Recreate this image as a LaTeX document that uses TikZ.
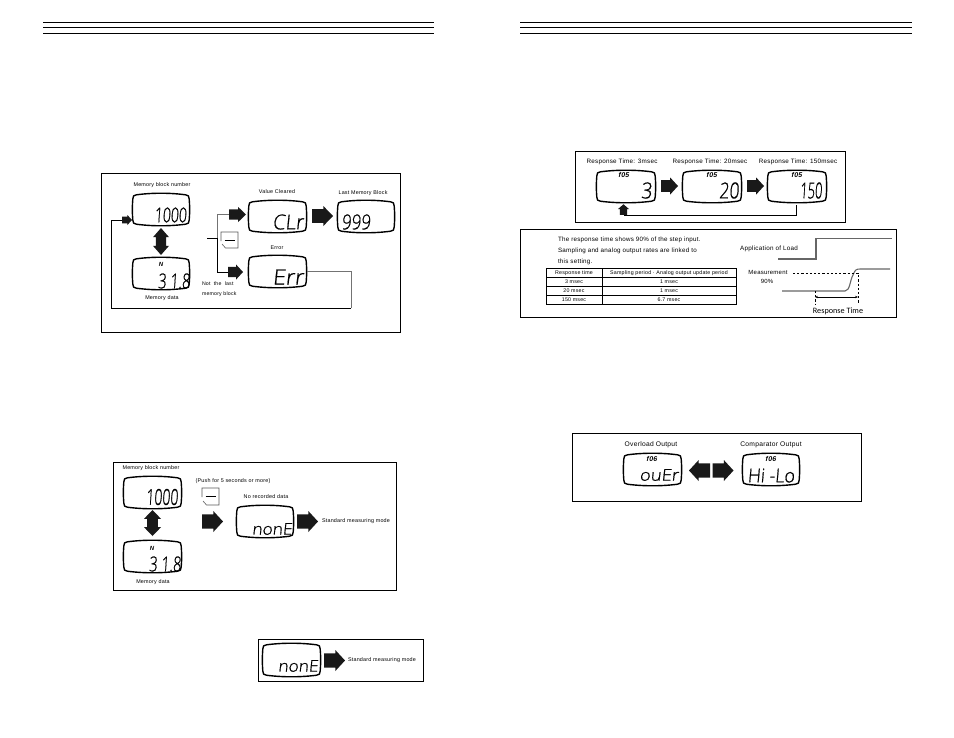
\documentclass[tikz,border=0pt]{standalone}
\usepackage{fontspec}
\usepackage{graphicx}
\setmainfont[LetterSpace=4]{Liberation Sans}
\newfontfamily\lcdfont[FakeSlant=0.1,FakeBold=0.7]{Open Sans Light}
\newfontfamily\capfont{Carlito}
\usetikzlibrary{arrows.meta}
\tikzset{
  every node/.style={inner sep=0pt,outer sep=0pt},
  rule/.style={line width=1.2pt,black},
  panel/.style={draw=black,line width=0.9pt},
  lcdanchor/.style={draw=none,rectangle},
  lcdedge/.style={draw=black,line width=1.4pt,line join=round,fill=white},
  label/.style={font=\fontsize{5.4}{6.5}\selectfont,text=black},
  labelwide/.style={font=\fontsize{6.4}{7.5}\selectfont,text=black},
  small/.style={font=\fontsize{5.2}{6.5}\selectfont,text=black},
  func/.style={font=\fontsize{7}{8}\selectfont\itshape\bfseries,text=black},
  wire/.style={draw=black,line width=0.75pt},
  grayline/.style={draw=black!55,line width=0.8pt},
  keyedge/.style={draw=black!65,line width=0.6pt},
  block/.style={fill=black!90,draw=none},
  body/.style={font=\fontsize{6.25}{7}\selectfont,anchor=west,text=black},
  cell/.style={font=\fontsize{5.3}{6}\selectfont,text=black},
  signal/.style={draw=black!60,line width=1.1pt},
  dim/.style={draw=black,line width=0.7pt,dash pattern=on 2.2pt off 2pt},
}
% LCD window with slightly bowed edges: name, left, top, right, bottom
\newcommand{\lcd}[5]{%
  \node[lcdanchor,minimum width={(#4-#2)*1pt},minimum height={(#5-#3)*1pt}] (#1) at ({(#2+#4)/2},{(#3+#5)/2}) {};
  \draw[lcdedge] ({#2+0.8},{#3+6})
    .. controls ({#2+0.8},{#3+3}) and ({#2+1.6},{#3+2.2}) .. ({#2+4.5},{#3+1.8})
    .. controls ({#2+20},{#3-0.3}) and ({#4-20},{#3-0.3}) .. ({#4-4.5},{#3+1.8})
    .. controls ({#4-1.6},{#3+2.2}) and ({#4-0.8},{#3+3}) .. ({#4-0.8},{#3+6})
    .. controls ({#4-0.2},{#3+13}) and ({#4-0.2},{#5-13}) .. ({#4-0.8},{#5-6})
    .. controls ({#4-0.8},{#5-3}) and ({#4-1.6},{#5-2.2}) .. ({#4-4.5},{#5-1.8})
    .. controls ({#4-20},{#5+0.3}) and ({#2+20},{#5+0.3}) .. ({#2+4.5},{#5-1.8})
    .. controls ({#2+1.6},{#5-2.2}) and ({#2+0.8},{#5-3}) .. ({#2+0.8},{#5-6})
    .. controls ({#2+0.2},{#5-13}) and ({#2+0.2},{#3+13}) .. cycle;
}
% LCD reading fitted to a box: name, centre x, centre y, width, height, text
\newcommand{\seg}[6]{%
  \node (#1) at (#2,#3) {\resizebox{#4pt}{#5pt}{\lcdfont #6}};
}
% Block arrow; its node's west anchor is the tail: name, centre x, centre y, length, width, direction
\newcommand{\blockarrow}[6]{%
  \node[lcdanchor,minimum width=#4pt,minimum height=#5pt,rotate=#6] (#1) at (#2,#3) {};
  \begin{scope}[shift={(#2,#3)},rotate=#6]
    \fill[block] ({-#4/2},{-0.34*#5}) -- ({0.04*#4},{-0.34*#5}) -- ({0.04*#4},{-#5/2}) -- ({#4/2},0)
      -- ({0.04*#4},{#5/2}) -- ({0.04*#4},{0.34*#5}) -- ({-#4/2},{0.34*#5}) -- cycle;
  \end{scope}
}
% Two-headed block arrow, vertical: name, centre x, centre y, length, width
\newcommand{\swaparrow}[5]{%
  \node[lcdanchor,minimum width=#5pt,minimum height=#4pt] (#1) at (#2,#3) {};
  \begin{scope}[shift={(#2,#3)}]
    \fill[block] (0,{-#4/2}) -- ({#5/2},{-0.16*#4}) -- ({0.32*#5},{-0.16*#4}) -- ({0.32*#5},{0.16*#4})
      -- ({#5/2},{0.16*#4}) -- (0,{#4/2}) -- ({-#5/2},{0.16*#4}) -- ({-0.32*#5},{0.16*#4})
      -- ({-0.32*#5},{-0.16*#4}) -- ({-#5/2},{-0.16*#4}) -- cycle;
  \end{scope}
}
% Tare key symbol with clipped corner: name, left, top, right, bottom
\newcommand{\tarekey}[5]{%
  \node[lcdanchor,minimum width={(#4-#2)*1pt},minimum height={(#5-#3)*1pt}] (#1) at ({(#2+#4)/2},{(#3+#5)/2}) {};
  \draw[keyedge] (#2,{#3+9}) -- (#2,#3) -- (#4,#3) -- (#4,#5) -- ({#2+4.5},#5) -- ({#2+1},{#5-4});
  \draw[black,line width=0.8pt] ({#2+3.5},{(#3+#5)/2}) -- ({#4-3},{(#3+#5)/2});
}
\begin{document}
\begin{tikzpicture}[x=1pt,y=-1pt]
\useasboundingbox[fill=white] (0,0) rectangle (954,737);

% Header rules of both pages
\foreach \ry in {22.3,27.5,33.3} {
  \draw[rule] (43,\ry) -- (434,\ry);
  \draw[rule] (520,\ry) -- (912,\ry);
}

% Clearing a memory block
\draw[panel] (101,173) rectangle (400,332);
\lcd{blockA}{132}{193}{190}{226}
\lcd{dataA}{132}{257}{190}{290}
\lcd{clr}{248}{200}{307}{233}
\lcd{last}{337}{200}{395}{233}
\lcd{err}{248}{255}{307}{288}
\seg{blockAv}{170.5}{215}{32}{15}{1000}
\seg{dataAv}{174}{281}{32}{15}{3 1.8}
\node[func,font=\fontsize{6}{7}\selectfont\itshape\bfseries] (unitA) at (161,264) {N};
\seg{clrv}{288}{222}{31}{15}{CLr}
\seg{lastv}{356}{222}{29}{15}{999}
\seg{errv}{288}{277}{31}{15}{Err}
\node[label] (tA) at (162,185) {Memory block number};
\node[label] (tB) at (162,298) {Memory data};
\node[label] (tC) at (277,192) {Value Cleared};
\node[label] (tD) at (363,193) {Last Memory Block};
\node[label] (tE) at (277,248) {Error};
\node[small,anchor=west] (tF) at (202,284) {Not\ \ the\ \ last};
\node[small,anchor=west] (tG) at (202,294) {memory block};
\tarekey{keyA}{221}{232}{238}{248}
\swaparrow{swapA}{161}{241.5}{27}{16}
\blockarrow{toClr}{237.5}{214.5}{17}{15}{0}
\blockarrow{toLast}{322.5}{216}{21}{20}{0}
\blockarrow{toErr}{235.5}{272}{15}{15}{0}
\blockarrow{toBlock}{127}{220}{10}{10}{0}
\coordinate (branch) at (207,238);
\coordinate (trunk) at (217,238);
\draw[wire] (branch) -- (trunk);
\draw[grayline] (trunk) |- (toClr.west);
\draw[wire] (trunk) |- (toErr.west);
\coordinate (retR) at (351,308);
\coordinate (retL) at (111,308);
\draw[grayline] (err.east |- 0,271) -- (351,271) -- (retR);
\draw[wire] (retR) -- (retL) |- (toBlock.west);

% Clearing with no recorded data
\draw[panel] (113,462) rectangle (396,590);
\lcd{blockB}{123}{476}{182}{509}
\lcd{dataB}{123}{540}{182}{573}
\lcd{noneB}{236}{505}{294}{538}
\seg{blockBv}{162}{497}{32}{16}{1000}
\seg{dataBv}{165}{564}{32}{15}{3 1.8}
\node[func,font=\fontsize{6}{7}\selectfont\itshape\bfseries] (unitB) at (152,548) {N};
\seg{noneBv}{272}{529}{40}{11.5}{nonE}
\node[label] (tH) at (151,468) {Memory block number};
\node[label] (tI) at (153,582) {Memory data};
\node[label] (tJ) at (233,481) {(Push for 5 seconds or more)};
\node[label] (tK) at (266,497) {No recorded data};
\node[label,anchor=west] (tL) at (322,521) {Standard measuring mode};
\tarekey{keyB}{202}{488}{219}{505}
\swaparrow{swapB}{152.5}{523}{26}{17}
\blockarrow{pushB}{212.5}{521.5}{21}{21}{0}
\blockarrow{exitB}{307.5}{521.5}{21}{21}{0}

% Exit from the no-data display
\draw[panel] (258,639) rectangle (423,681);
\lcd{noneC}{262}{643}{321}{677}
\seg{noneCv}{298}{666}{40}{11.5}{nonE}
\blockarrow{exitC}{334.5}{660.5}{21}{21}{0}
\node[label,anchor=west] (tM) at (348,660) {Standard measuring mode};

% Response time selection
\draw[panel] (575,151) rectangle (845,222);
\lcd{resA}{596}{170}{656}{203}
\lcd{resB}{682}{170}{742}{203}
\lcd{resC}{767}{170}{827}{203}
\node[labelwide,font=\fontsize{6.3}{7.5}\selectfont] (tN) at (622,162) {Response Time: 3msec};
\node[labelwide,font=\fontsize{6.3}{7.5}\selectfont] (tO) at (710,162) {Response Time: 20msec};
\node[labelwide,font=\fontsize{6.3}{7.5}\selectfont] (tP) at (798,162) {Response Time: 150msec};
\node[func] (fA) at (624,174.5) {f05};
\node[func] (fB) at (712,175) {f05};
\node[func] (fC) at (797,175) {f05};
\seg{resAv}{646.5}{190.5}{11}{16}{3}
\seg{resBv}{729}{190.5}{20}{16}{20}
\seg{resCv}{811}{190.5}{22}{16}{150}
\blockarrow{resAB}{669.5}{186}{17}{17}{0}
\blockarrow{resBC}{755.5}{186}{17}{17}{0}
\blockarrow{resBack}{623.5}{209.5}{10.5}{11}{90}
\coordinate (backC) at (796,205);
\coordinate (backT) at (796,215);
\draw[wire,line width=1pt] (backC) -- (backT) -- (resBack.west |- backT);

% Response time note, table and timing chart
\draw[panel] (520,229) rectangle (896,317);
\node[body] (nA) at (558,240) {The response time shows 90\% of the step input.};
\node[body] (nB) at (558,251) {Sampling and analog output rates are linked to};
\node[body] (nC) at (558,262) {this setting.};
\draw[line width=0.7pt] (546,268) rectangle (736,304);
\foreach \ry in {277,286,295} \draw[line width=0.7pt] (546,\ry) -- (736,\ry);
\draw[line width=0.7pt] (602,268) -- (602,304);
\node[cell] (cA) at (574,272.8) {Response time};
\node[cell] (cB) at (669,272.8) {Sampling period · Analog output update period};
\node[cell] (cC) at (574,281.6) {3 msec};
\node[cell] (cD) at (669,281.6) {1 msec};
\node[cell] (cE) at (574,290.6) {20 msec};
\node[cell] (cF) at (669,290.6) {1 msec};
\node[cell] (cG) at (574,299.6) {150 msec};
\node[cell] (cH) at (669,299.6) {6.7 msec};
\node[label,font=\fontsize{6.3}{7}\selectfont] (gA) at (769,249) {Application of Load};
\node[label,font=\fontsize{6}{7}\selectfont] (gB) at (768,272) {Measurement};
\node[label,font=\fontsize{6}{7}\selectfont] (gC) at (767,281) {90\%};
\node[font=\capfont\fontsize{8.2}{10}\selectfont,text=black] (gD) at (838,311) {Response Time};
\draw[signal] (778,259) -- (816,259) -- (816,238.5) -- (892,238.5);
\draw[signal] (782,291) -- (845,291) .. controls (850,291) and (850,280) .. (853,275)
  .. controls (855,270) and (856,269) .. (860,269) -- (890,269);
\draw[dim] (793,273) -- (858,273) -- (858,303);
\draw[dim] (815,291) -- (815,305);
\draw[black,line width=0.7pt,{Stealth[length=3pt,width=2.4pt]}-{Stealth[length=3pt,width=2.4pt]}] (815,297) -- (858,297);

% Output type selection
\draw[panel] (572,433) rectangle (861,501);
\lcd{outA}{623}{453}{682}{486}
\lcd{outB}{742}{453}{800}{486}
\node[labelwide,font=\fontsize{6.7}{8}\selectfont] (tQ) at (651,445) {Overload Output};
\node[labelwide,font=\fontsize{6.7}{8}\selectfont] (tR) at (771,445) {Comparator Output};
\node[func] (fD) at (652,459) {f06};
\node[func] (fE) at (771,459) {f06};
\seg{outAv}{659}{475}{39}{11.5}{ouEr}
\seg{outBv}{771}{475.5}{47}{14}{Hi -Lo}
\blockarrow{outL}{699.5}{470.5}{21}{21}{180}
\blockarrow{outR}{723}{470.5}{21}{21}{0}
\end{tikzpicture}
\end{document}
